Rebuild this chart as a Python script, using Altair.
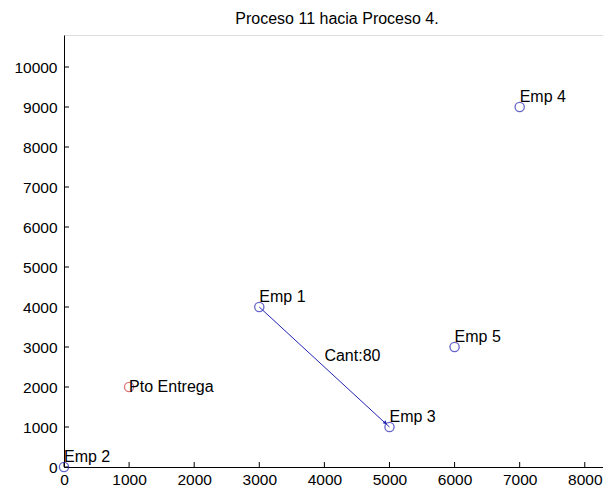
import altair as alt
import pandas as pd

# ---- data ----
names = ["Emp 1", "Emp 2", "Emp 3", "Emp 4", "Emp 5", "Pto Entrega"]
xs = [3000, 0, 5000, 7000, 6000, 1000]
ys = [4000, 0, 1000, 9000, 3000, 2000]
kinds = ["emp", "emp", "emp", "emp", "emp", "pto"]

route_from = "Emp 1"
route_to = "Emp 3"
route_label = "Cant:80"

x_ticks = [0, 1000, 2000, 3000, 4000, 5000, 6000, 7000, 8000]
y_ticks = [0, 1000, 2000, 3000, 4000, 5000, 6000, 7000, 8000, 9000, 10000]

title_text = "Proceso 11 hacia Proceso 4."

# ---- tables ----
pts = pd.DataFrame({"name": names, "x": xs, "y": ys, "kind": kinds})
i0, i1 = names.index(route_from), names.index(route_to)
route = pd.DataFrame({
    "x": [xs[i0]], "y": [ys[i0]], "x2": [xs[i1]], "y2": [ys[i1]],
    "mx": [(xs[i0] + xs[i1]) / 2], "my": [(ys[i0] + ys[i1]) / 2],
    "label": [route_label],
})
head = pd.DataFrame({"x": [xs[i1]], "y": [ys[i1]]})
xt = pd.DataFrame({"v": x_ticks})
yt = pd.DataFrame({"v": y_ticks})
tt = pd.DataFrame({"t": [title_text]})

W, H = 539, 432
FONT = "Liberation Sans"
BLUE = "#2424b4"
RED = "#d03c3c"

xscale = alt.Scale(domain=[0, 8280], nice=False, zero=False)
yscale = alt.Scale(domain=[0, 10800], nice=False, zero=False)

xaxis = alt.Axis(values=x_ticks, grid=False, ticks=False, labelPadding=5, format="d",
                 labelFontSize=15.5, labelFont=FONT, labelColor="black",
                 domainColor="black", title=None, labelFlush=False)
yaxis = alt.Axis(values=y_ticks, grid=False, ticks=False, labelPadding=7, format="d",
                 labelFontSize=15.5, labelFont=FONT, labelColor="black",
                 domainColor="black", title=None, labelFlush=False)

base_pts = alt.Chart(pts)

circles = base_pts.mark_point(shape="circle", filled=False, size=85, strokeWidth=1.3).encode(
    x=alt.X("x:Q", scale=xscale, axis=xaxis),
    y=alt.Y("y:Q", scale=yscale, axis=yaxis),
    color=alt.Color("kind:N", scale=alt.Scale(domain=["emp", "pto"], range=[BLUE, RED]), legend=None),
)

emp_text = base_pts.transform_filter(alt.datum.kind == "emp").mark_text(
    align="left", baseline="middle", dx=0, dy=-10, fontSize=16, font=FONT, color="black"
).encode(x="x:Q", y="y:Q", text="name:N")

pto_text = base_pts.transform_filter(alt.datum.kind == "pto").mark_text(
    align="left", baseline="middle", dx=0, dy=0, fontSize=16, font=FONT, color="black"
).encode(x="x:Q", y="y:Q", text="name:N")

line = alt.Chart(route).mark_rule(color=BLUE, strokeWidth=1).encode(
    x="x:Q", y="y:Q", x2="x2:Q", y2="y2:Q"
)
route_text = alt.Chart(route).mark_text(
    align="left", baseline="middle", dx=0, dy=-11, fontSize=16, font=FONT, color="black"
).encode(x="mx:Q", y="my:Q", text="label:N")

arrow = alt.Chart(head).mark_point(shape="triangle-right", filled=True, size=18,
                                   angle=43, color=BLUE, opacity=1, xOffset=-4, yOffset=-4).encode(
    x="x:Q", y="y:Q"
)

xtick_marks = alt.Chart(xt).mark_rule(color="black", strokeWidth=1).encode(
    x=alt.X("v:Q", scale=xscale), y=alt.value(H), y2=alt.value(H - 5)
)
ytick_marks = alt.Chart(yt).mark_rule(color="black", strokeWidth=1).encode(
    y=alt.Y("v:Q", scale=yscale), x=alt.value(0), x2=alt.value(5)
)

title_mark = alt.Chart(tt).mark_text(
    align="center", baseline="alphabetic", fontSize=16, font=FONT, color="black"
).encode(x=alt.value(273), y=alt.value(-11), text="t:N")

chart = alt.layer(
    xtick_marks, ytick_marks, line, arrow, circles, emp_text, pto_text, route_text, title_mark
).properties(
    width=W, height=H,
    autosize=alt.AutoSizeParams(type="none"),
    padding={"left": 56, "top": 27, "right": 0, "bottom": 20},
).configure_view(stroke=None).configure(background="white")

chart.save("out.html", embed_options={"renderer": "svg", "actions": False})
